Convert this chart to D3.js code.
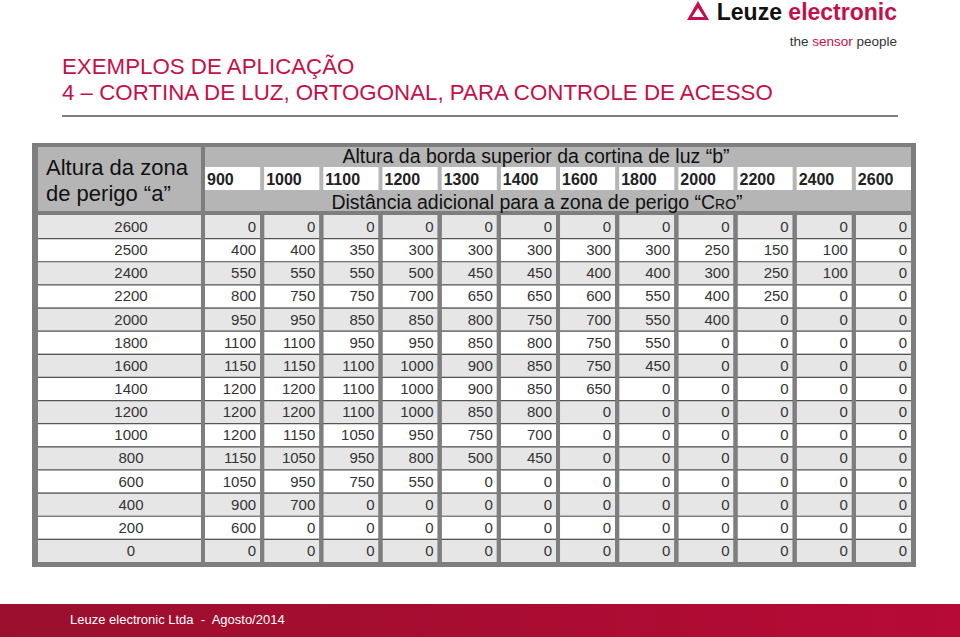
<!DOCTYPE html>
<html>
<head>
<meta charset="utf-8">
<script src="https://cdn.jsdelivr.net/npm/d3@7"></script>
<style>
  body { margin: 0; background: #fff; }
  svg { display: block; font-family: "Liberation Sans", Arial, sans-serif; }
</style>
</head>
<body>
<svg id="chart" width="960" height="637"></svg>
<script>
// altura da zona de perigo "a" (linhas)
const rowLabels = [2600, 2500, 2400, 2200, 2000, 1800, 1600, 1400, 1200, 1000, 800, 600, 400, 200, 0];
// altura da borda superior "b" (colunas)
const colLabels = [900, 1000, 1100, 1200, 1300, 1400, 1600, 1800, 2000, 2200, 2400, 2600];
// distancia adicional CRO, uma linha por valor de "a"
const croValues = [
    [0, 0, 0, 0, 0, 0, 0, 0, 0, 0, 0, 0],
    [400, 400, 350, 300, 300, 300, 300, 300, 250, 150, 100, 0],
    [550, 550, 550, 500, 450, 450, 400, 400, 300, 250, 100, 0],
    [800, 750, 750, 700, 650, 650, 600, 550, 400, 250, 0, 0],
    [950, 950, 850, 850, 800, 750, 700, 550, 400, 0, 0, 0],
    [1100, 1100, 950, 950, 850, 800, 750, 550, 0, 0, 0, 0],
    [1150, 1150, 1100, 1000, 900, 850, 750, 450, 0, 0, 0, 0],
    [1200, 1200, 1100, 1000, 900, 850, 650, 0, 0, 0, 0, 0],
    [1200, 1200, 1100, 1000, 850, 800, 0, 0, 0, 0, 0, 0],
    [1200, 1150, 1050, 950, 750, 700, 0, 0, 0, 0, 0, 0],
    [1150, 1050, 950, 800, 500, 450, 0, 0, 0, 0, 0, 0],
    [1050, 950, 750, 550, 0, 0, 0, 0, 0, 0, 0, 0],
    [900, 700, 0, 0, 0, 0, 0, 0, 0, 0, 0, 0],
    [600, 0, 0, 0, 0, 0, 0, 0, 0, 0, 0, 0],
    [0, 0, 0, 0, 0, 0, 0, 0, 0, 0, 0, 0]
];

const red = "#c4104a";
const svg = d3.select("#chart");

// --- logo ---
const logo = svg.append("g");
logo.append("path")
    .attr("d", "M698,1 L709,20 L687,20 Z M698,8 L704,17 L692,17 Z")
    .attr("fill", red)
    .attr("fill-rule", "evenodd");
logo.append("text")
    .attr("x", 897).attr("y", 20)
    .attr("text-anchor", "end")
    .style("font-size", "23px").style("font-weight", "bold")
    .call(t => {
        t.append("tspan").attr("fill", "#111").text("Leuze ");
        t.append("tspan").attr("fill", red).text("electronic");
    });
logo.append("text")
    .attr("x", 897).attr("y", 46)
    .attr("text-anchor", "end")
    .style("font-size", "13.5px")
    .call(t => {
        t.append("tspan").attr("fill", "#333").text("the ");
        t.append("tspan").attr("fill", red).text("sensor");
        t.append("tspan").attr("fill", "#333").text(" people");
    });

// --- titulo ---
svg.append("text").attr("x", 62).attr("y", 74)
    .attr("fill", red).style("font-size", "22.3px")
    .text("EXEMPLOS DE APLICAÇÃO");
svg.append("text").attr("x", 62).attr("y", 100)
    .attr("fill", red).style("font-size", "22.3px")
    .text("4 – CORTINA DE LUZ, ORTOGONAL, PARA CONTROLE DE ACESSO");
svg.append("line")
    .attr("x1", 62).attr("x2", 898).attr("y1", 116).attr("y2", 116)
    .attr("stroke", "#555").attr("stroke-width", 1.5);

// --- tabela ---
const x0 = 38, x1 = 201;       // coluna "a"
const xScale = d3.scaleBand()
    .domain(colLabels)
    .range([205, 911])
    .paddingInner(0.068)
    .paddingOuter(0);
const yScale = d3.scaleBand()
    .domain(rowLabels)
    .range([215, 562]);

// moldura
svg.append("rect")
    .attr("x", 32).attr("y", 143).attr("width", 884).attr("height", 424)
    .attr("fill", "#7e7e7e");

// cabecalho
svg.append("rect").attr("x", x0).attr("y", 147).attr("width", x1 - x0).attr("height", 64)
    .attr("fill", "#b5b5b5");
svg.append("rect").attr("x", 205).attr("y", 147).attr("width", 706).attr("height", 64)
    .attr("fill", "#b5b5b5");

svg.append("text").attr("x", 46).attr("y", 175)
    .style("font-size", "22px").attr("fill", "#111")
    .text("Altura da zona");
svg.append("text").attr("x", 46).attr("y", 201)
    .style("font-size", "22px").attr("fill", "#111")
    .text("de perigo “a”");

svg.append("text").attr("x", 536).attr("y", 163)
    .attr("text-anchor", "middle")
    .style("font-size", "19.5px").attr("fill", "#111")
    .text("Altura da borda superior da cortina de luz “b”");

svg.append("text").attr("x", 537).attr("y", 209)
    .attr("text-anchor", "middle")
    .style("font-size", "19.5px").attr("fill", "#111")
    .call(t => {
        t.append("tspan").text("Distância adicional para a zona de perigo “C");
        t.append("tspan").style("font-size", "14px").text("RO");
        t.append("tspan").text("”");
    });

const headCells = svg.append("g").selectAll("g")
    .data(colLabels)
    .join("g");
headCells.append("rect")
    .attr("x", d => xScale(d))
    .attr("y", 167)
    .attr("width", xScale.bandwidth())
    .attr("height", 23)
    .attr("fill", "#fff");
headCells.append("text")
    .attr("x", d => xScale(d) + 2)
    .attr("y", 184.5)
    .style("font-size", "16px").style("font-weight", "bold")
    .attr("fill", "#222")
    .text(d => d);

// linhas de dados
const rows = svg.append("g").selectAll("g")
    .data(rowLabels.map((a, i) => ({ a, i, values: croValues[i] })))
    .join("g")
    .attr("transform", d => `translate(0,${yScale(d.a)})`);

rows.append("rect")
    .attr("x", x0).attr("y", 0)
    .attr("width", x1 - x0)
    .attr("height", yScale.bandwidth())
    .attr("fill", d => d.i % 2 === 0 ? "#e6e6e6" : "#fff");

rows.append("text")
    .attr("x", 131)
    .attr("y", yScale.bandwidth() / 2 + 5.5)
    .attr("text-anchor", "middle")
    .style("font-size", "15px").attr("fill", "#333")
    .text(d => d.a);

rows.each(function(row) {
    const g = d3.select(this);
    const cells = g.selectAll("g.cell")
        .data(row.values.map((v, j) => ({ v, b: colLabels[j] })))
        .join("g")
        .attr("class", "cell");
    cells.append("rect")
        .attr("x", d => xScale(d.b))
        .attr("y", 0)
        .attr("width", xScale.bandwidth())
        .attr("height", yScale.bandwidth())
        .attr("fill", row.i % 2 === 0 ? "#e6e6e6" : "#fff");
    cells.append("text")
        .attr("x", d => xScale(d.b) + xScale.bandwidth() - 4)
        .attr("y", yScale.bandwidth() / 2 + 5.5)
        .attr("text-anchor", "end")
        .style("font-size", "15px").attr("fill", "#333")
        .text(d => d.v);
});

// linhas horizontais finas entre as linhas
svg.append("g").selectAll("line")
    .data(rowLabels.slice(1))
    .join("line")
    .attr("x1", x0).attr("x2", 911)
    .attr("y1", d => yScale(d) + 0.5).attr("y2", d => yScale(d) + 0.5)
    .attr("stroke", "#555").attr("stroke-width", 1.2);

// separadores verticais por cima das linhas finas
svg.append("g").selectAll("rect")
    .data(colLabels)
    .join("rect")
    .attr("x", d => xScale(d) - xScale.step() * xScale.paddingInner())
    .attr("y", 215)
    .attr("width", xScale.step() * xScale.paddingInner())
    .attr("height", 347)
    .attr("fill", "#7e7e7e");

// --- rodape ---
const grad = svg.append("defs").append("linearGradient")
    .attr("id", "footGrad").attr("x1", "0").attr("x2", "1");
grad.append("stop").attr("offset", "0").attr("stop-color", "#9a0f2e");
grad.append("stop").attr("offset", "1").attr("stop-color", "#b70a36");
svg.append("rect")
    .attr("x", 0).attr("y", 604).attr("width", 960).attr("height", 33)
    .attr("fill", "url(#footGrad)");
svg.append("text")
    .attr("x", 70).attr("y", 624)
    .attr("fill", "#fff").style("font-size", "13px")
    .attr("xml:space", "preserve")
    .text("Leuze electronic Ltda  -  Agosto/2014");
</script>
</body>
</html>
